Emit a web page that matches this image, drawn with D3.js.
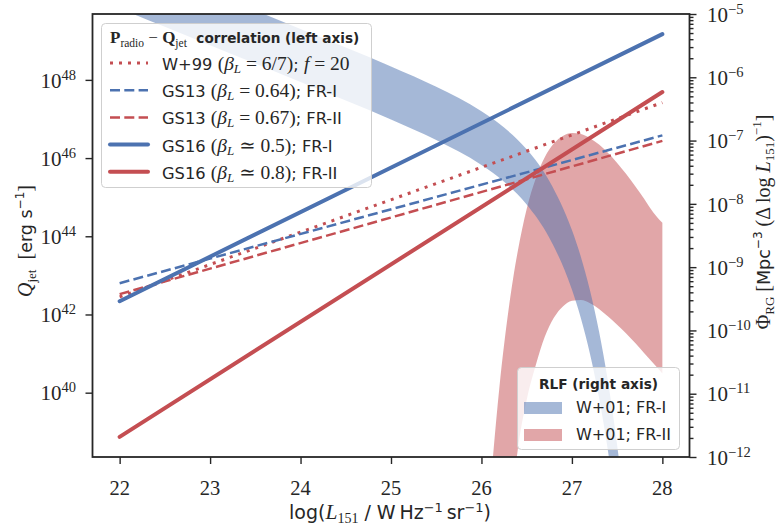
<!DOCTYPE html>
<html><head><meta charset="utf-8">
<script src="https://cdn.jsdelivr.net/npm/d3@7"></script>
<style>body{margin:0;background:#fff} svg{display:block} text{white-space:pre}</style>
</head><body>
<svg id="c" width="779" height="525"></svg>
<script>
// ---------------- data ----------------
const xTicks = [22, 23, 24, 25, 26, 27, 28];
const leftTickExps = [40, 42, 44, 46, 48];
const rightTickExps = [-12, -11, -10, -9, -8, -7, -6, -5];

// P_radio - Q_jet relations: log10(Q_jet) at log L151 = 22 and 28
const lineL = [22, 28];
const w99LogQ = [42.45, 47.42];
const gs13FR1LogQ = [42.80, 46.58];
const gs13FR2LogQ = [42.52, 46.44];
const gs16FR1LogQ = [42.34, 49.17];
const gs16FR2LogQ = [38.87, 47.69];

// RLF bands (log10 Phi)
const fr1L = [22, 22.5, 23, 23.5, 24, 24.5, 25, 25.5, 26, 26.25, 26.5, 26.75, 27, 27.1, 27.2, 27.3, 27.4, 27.45, 27.5, 27.55, 27.6];
const fr1Upper = [-4.074, -4.364, -4.654, -4.945, -5.236, -5.529, -5.828, -6.150, -6.538, -6.794, -7.139, -7.637, -8.412, -8.842, -9.369, -10.017, -10.818, -11.288, -11.812, -12.396, -13.046];
const fr1Lower = [-4.913, -5.203, -5.493, -5.784, -6.075, -6.368, -6.668, -6.992, -7.387, -7.652, -8.010, -8.535, -9.354, -9.811, -10.371, -11.061, -11.916, -12.417, -12.976, -13.599, -14.297];

const fr2L = [26.1, 26.2, 26.3, 26.35, 26.4, 26.5, 26.6, 26.7, 26.8, 26.9, 27.0, 27.1, 27.2, 27.3, 27.4, 27.5, 27.6, 27.7, 27.8, 27.9, 28.0];
const fr2Upper = [-12.45, -10.88, -9.67, -9.18, -8.76, -8.08, -7.60, -7.263, -7.046, -6.926, -6.881, -6.897, -6.962, -7.064, -7.197, -7.354, -7.530, -7.721, -7.924, -8.137, -8.30];
const fr2Lower = [-15.5, -14.3, -13.2, -12.5, -11.9, -11.1, -10.55, -10.10, -9.80, -9.62, -9.53, -9.52, -9.57, -9.66, -9.78, -9.91, -10.05, -10.20, -10.36, -10.52, -10.68];

// ---------------- setup ----------------
const SANS = "'DejaVu Sans', sans-serif";
const SERIF = "'Liberation Serif', 'DejaVu Serif', serif";
const INK = "#262626";
const BLUE = "#4C72B0", RED = "#C44E52";
const M = {l: 92.5, r: 689.5, t: 14, b: 457};

const svg = d3.select("#c");
const x = d3.scaleLinear().domain([21.7, 28.3]).range([M.l, M.r]);
const yL = d3.scaleLog().domain([Math.pow(10, 38.355), Math.pow(10, 49.685)]).range([M.b, M.t]);
const yR = d3.scaleLog().domain([1e-12, 1e-5]).range([M.b, M.t]);

function rich(t, parts) {
  let cur = 0;
  parts.forEach(p => {
    const s = p.s || 0;
    const ts = t.append("tspan").text(p.t)
      .attr("font-family", p.ff === "serif" ? SERIF : SANS)
      .attr("font-size", p.fs)
      .attr("font-style", p.it ? "italic" : "normal")
      .attr("font-weight", p.b ? "bold" : "normal");
    if (s !== cur) ts.attr("dy", s - cur);
    cur = s;
  });
  return t;
}

svg.append("defs").append("clipPath").attr("id", "clip")
  .append("rect").attr("x", M.l).attr("y", M.t).attr("width", M.r - M.l).attr("height", M.b - M.t);

const plot = svg.append("g").attr("clip-path", "url(#clip)");

// bands
const band = d3.area()
  .x(d => x(d.L)).y0(d => yR(Math.pow(10, d.lo))).y1(d => yR(Math.pow(10, d.hi)))
  .curve(d3.curveMonotoneX);
const fr2 = fr2L.map((L, i) => ({L, lo: fr2Lower[i], hi: fr2Upper[i]}));
const fr1 = fr1L.map((L, i) => ({L, lo: fr1Lower[i], hi: fr1Upper[i]}));
plot.append("path").datum(fr2).attr("d", band).attr("fill", RED).attr("fill-opacity", 0.5);
plot.append("path").datum(fr1).attr("d", band).attr("fill", BLUE).attr("fill-opacity", 0.5);

// lines
const line = d3.line().x(d => x(d.L)).y(d => yL(Math.pow(10, d.q)));
const series = [
  {q: w99LogQ, c: RED, w: 3, dash: "3,6", cap: "butt"},
  {q: gs13FR1LogQ, c: BLUE, w: 2.5, dash: "10,4.3", cap: "butt"},
  {q: gs13FR2LogQ, c: RED, w: 2.5, dash: "10,4.3", cap: "butt"},
  {q: gs16FR1LogQ, c: BLUE, w: 4, dash: null, cap: "round"},
  {q: gs16FR2LogQ, c: RED, w: 4, dash: null, cap: "round"},
];
series.forEach(s => {
  plot.append("path").datum(lineL.map((L, i) => ({L, q: s.q[i]})))
    .attr("d", line).attr("fill", "none").attr("stroke", s.c)
    .attr("stroke-width", s.w).attr("stroke-linecap", s.cap)
    .attr("stroke-dasharray", s.dash);
});

// axes
const gx = svg.append("g").attr("transform", `translate(0,${M.b})`)
  .call(d3.axisBottom(x).tickValues(xTicks).tickSize(7).tickFormat(""));
const gl = svg.append("g").attr("transform", `translate(${M.l},0)`)
  .call(d3.axisLeft(yL).tickValues(leftTickExps.map(e => Math.pow(10, e))).tickSize(7).tickFormat(""));
const minor = [];
for (let k = -12; k < -5; k++) for (let m = 2; m <= 9; m++) minor.push(m * Math.pow(10, k));
const grm = svg.append("g").attr("transform", `translate(${M.r},0)`)
  .call(d3.axisRight(yR).tickValues(minor).tickSize(4).tickFormat(""));
const gr = svg.append("g").attr("transform", `translate(${M.r},0)`)
  .call(d3.axisRight(yR).tickValues(rightTickExps.map(e => Math.pow(10, e))).tickSize(7).tickFormat(""));
[gx, gl, grm, gr].forEach(g => {
  g.select(".domain").remove();
  g.selectAll("line").attr("stroke", INK).attr("stroke-width", 1.4);
});

svg.append("rect").attr("x", M.l).attr("y", M.t).attr("width", M.r - M.l).attr("height", M.b - M.t)
  .attr("fill", "none").attr("stroke", INK).attr("stroke-width", 1.8);

// tick labels
xTicks.forEach(v => {
  svg.append("text").attr("x", x(v)).attr("y", 495).attr("text-anchor", "middle")
    .attr("fill", INK).attr("font-family", SERIF).attr("font-size", 20.5).text(v);
});
leftTickExps.forEach(e => {
  const t = svg.append("text").attr("x", 76).attr("y", yL(Math.pow(10, e)) + 7.7)
    .attr("text-anchor", "end").attr("fill", INK);
  rich(t, [{t: "10", ff: "serif", fs: 21}, {t: String(e), ff: "serif", fs: 14.5, s: -8}]);
});
rightTickExps.forEach(e => {
  const t = svg.append("text").attr("x", 707).attr("y", yR(Math.pow(10, e)) + 7.7)
    .attr("text-anchor", "start").attr("fill", INK);
  rich(t, [{t: "10", ff: "serif", fs: 21}, {t: "\u2212" + String(-e), ff: "serif", fs: 14.5, s: -8}]);
});

// axis labels
rich(svg.append("text").attr("x", (M.l + M.r) / 2 - 1).attr("y", 519).attr("text-anchor", "middle").attr("fill", INK), [
  {t: "log(", ff: "sans", fs: 19},
  {t: "L", ff: "serif", fs: 21.5, it: true},
  {t: "151", ff: "serif", fs: 14, s: 4},
  {t: " / W\u2009Hz", ff: "sans", fs: 19},
  {t: "\u22121", ff: "sans", fs: 13, s: -7.5},
  {t: "\u2009sr", ff: "sans", fs: 19},
  {t: "\u22121", ff: "sans", fs: 13, s: -7.5},
  {t: ")", ff: "sans", fs: 19},
]);
rich(svg.append("text").attr("transform", "translate(32,241) rotate(-90)").attr("text-anchor", "middle").attr("fill", INK), [
  {t: "Q", ff: "serif", fs: 20, it: true},
  {t: "jet", ff: "serif", fs: 13, s: 4},
  {t: "  [", ff: "serif", fs: 20},
  {t: "erg s", ff: "sans", fs: 17.5},
  {t: "\u22121", ff: "sans", fs: 12, s: -8},
  {t: "]", ff: "serif", fs: 20},
]);
rich(svg.append("text").attr("transform", "translate(770,222) rotate(-90)").attr("text-anchor", "middle").attr("fill", INK), [
  {t: "\u03A6", ff: "serif", fs: 20},
  {t: "RG", ff: "serif", fs: 13, s: 4},
  {t: " [", ff: "serif", fs: 20},
  {t: "Mpc", ff: "sans", fs: 17.5},
  {t: "\u22123", ff: "sans", fs: 12, s: -8},
  {t: " (\u0394 log ", ff: "serif", fs: 20},
  {t: "L", ff: "serif", fs: 20, it: true},
  {t: "151", ff: "serif", fs: 13, s: 4},
  {t: ")", ff: "serif", fs: 20},
  {t: "\u22121", ff: "serif", fs: 13, s: -9},
  {t: "]", ff: "serif", fs: 20},
]);

// legend 1
const lg1 = svg.append("g");
lg1.append("rect").attr("x", 101.5).attr("y", 23.5).attr("width", 270).attr("height", 164).attr("rx", 4)
  .attr("fill", "#fff").attr("fill-opacity", 0.8).attr("stroke", "#cfcfcf").attr("stroke-width", 1);
rich(lg1.append("text").attr("x", 110).attr("y", 43).attr("fill", INK), [
  {t: "P", ff: "serif", fs: 17, b: true},
  {t: "radio", ff: "serif", fs: 11.5, s: 3.5},
  {t: " \u2212 ", ff: "serif", fs: 17},
  {t: "Q", ff: "serif", fs: 17, b: true},
  {t: "jet", ff: "serif", fs: 11.5, s: 3.5},
  {t: "  correlation (left axis)", ff: "sans", fs: 13.6, b: true},
]);
const FS = 16.3, FM = 19.5, FSUB = 13;
function betaParts(rel, val) {
  return [
    {t: "(", ff: "serif", fs: FM},
    {t: "\u03B2", ff: "serif", fs: FM, it: true},
    {t: "L", ff: "serif", fs: FSUB, it: true, s: 3},
    {t: " " + rel + " " + val + ")", ff: "serif", fs: FM},
  ];
}
const rows = [
  [{t: "W+99 ", ff: "sans", fs: FS}, ...betaParts("=", "6/7"), {t: "; ", ff: "sans", fs: FS}, {t: "f", ff: "serif", fs: FM, it: true}, {t: " = 20", ff: "serif", fs: FM}],
  [{t: "GS13 ", ff: "sans", fs: FS}, ...betaParts("=", "0.64"), {t: "; FR-I", ff: "sans", fs: FS}],
  [{t: "GS13 ", ff: "sans", fs: FS}, ...betaParts("=", "0.67"), {t: "; FR-II", ff: "sans", fs: FS}],
  [{t: "GS16 ", ff: "sans", fs: FS}, ...betaParts("\u2243", "0.5"), {t: "; FR-I", ff: "sans", fs: FS}],
  [{t: "GS16 ", ff: "sans", fs: FS}, ...betaParts("\u2243", "0.8"), {t: "; FR-II", ff: "sans", fs: FS}],
];
rows.forEach((parts, i) => {
  const cy = 63 + i * 27.2;
  const s = series[i];
  lg1.append("line").attr("x1", 110).attr("x2", 148).attr("y1", cy).attr("y2", cy)
    .attr("stroke", s.c).attr("stroke-width", s.w).attr("stroke-linecap", s.cap)
    .attr("stroke-dasharray", s.dash);
  rich(lg1.append("text").attr("x", 162).attr("y", cy + 7).attr("fill", INK), parts);
});

// legend 2
const lg2 = svg.append("g");
lg2.append("rect").attr("x", 517.5).attr("y", 367.5).attr("width", 162).attr("height", 82).attr("rx", 4)
  .attr("fill", "#fff").attr("fill-opacity", 0.8).attr("stroke", "#cfcfcf").attr("stroke-width", 1);
lg2.append("text").attr("x", 598.5).attr("y", 388.5).attr("text-anchor", "middle").attr("fill", INK)
  .attr("font-family", SANS).attr("font-size", 13.7).attr("font-weight", "bold").text("RLF (right axis)");
[{c: BLUE, t: "W+01; FR-I"}, {c: RED, t: "W+01; FR-II"}].forEach((d, i) => {
  const top = 402 + i * 27;
  lg2.append("rect").attr("x", 524).attr("y", top).attr("width", 38).attr("height", 12)
    .attr("fill", d.c).attr("fill-opacity", 0.5);
  lg2.append("text").attr("x", 576).attr("y", top + 11).attr("fill", INK)
    .attr("font-family", SANS).attr("font-size", 16).text(d.t);
});
</script>
</body></html>
